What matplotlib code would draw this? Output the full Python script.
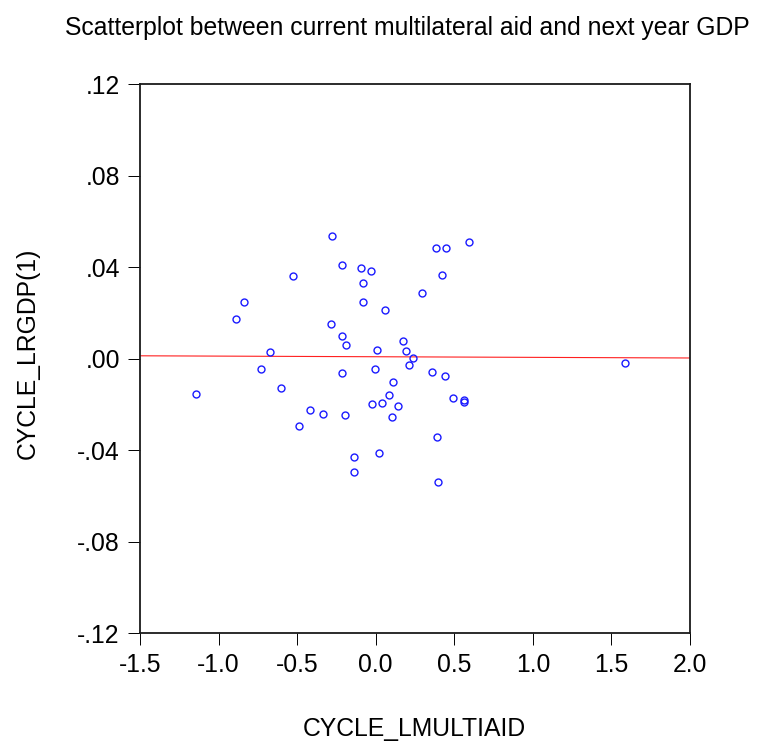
import numpy as np
import matplotlib
matplotlib.use('Agg')
import matplotlib.pyplot as plt
from matplotlib.ticker import FuncFormatter

# values
aid = [-1.141, -0.891, -0.840, -0.732, -0.672, -0.600, -0.526, -0.488, -0.420, -0.337,
       -0.286, -0.278, -0.216, -0.216, -0.214, -0.197, -0.187, -0.140, -0.138, -0.091,
       -0.083, -0.083, -0.032, -0.025, -0.006, 0.008, 0.021, 0.040, 0.057, 0.087,
       0.106, 0.108, 0.140, 0.176, 0.195, 0.212, 0.237, 0.293, 0.361, 0.384,
       0.392, 0.394, 0.422, 0.439, 0.445, 0.490, 0.562, 0.562, 0.592, 1.586]
gdp = [-0.0156, 0.0175, 0.0249, -0.0046, 0.0029, -0.0128, 0.0363, -0.0294, -0.0223, -0.0243,
       0.0150, 0.0537, 0.0411, 0.0101, -0.0064, -0.0245, 0.0059, -0.0497, -0.0430, 0.0397,
       0.0333, 0.0247, 0.0384, -0.0197, -0.0046, 0.0037, -0.0414, -0.0195, 0.0214, -0.0160,
       -0.0255, -0.0103, -0.0208, 0.0079, 0.0035, -0.0026, 0.0003, 0.0289, -0.0057, 0.0484,
       -0.0343, -0.0538, 0.0366, -0.0076, 0.0483, -0.0173, -0.0182, -0.0189, 0.0510, -0.0019]
xticks = [-1.5, -1.0, -0.5, 0.0, 0.5, 1.0, 1.5, 2.0]
yticks = [-0.12, -0.08, -0.04, 0.00, 0.04, 0.08, 0.12]

plt.rcParams['font.family'] = ['Liberation Sans', 'DejaVu Sans']
fs = 17.8

fig = plt.figure(figsize=(7.68, 7.43), dpi=100)
ax = fig.add_axes([0.1823, 0.148, 0.7161, 0.7385])

b, a = np.polyfit(aid, gdp, 1)
xl = np.array([-1.5, 2.0])
ax.plot(xl, a + b * xl, color='#ff2020', lw=0.8, zorder=2)
ax.plot(aid, gdp, 'o', mfc='none', mec='#1a1aff', ms=5.0, mew=1.0, zorder=3)

ax.set_xlim(-1.5, 2.0)
ax.set_ylim(-0.12, 0.12)
ax.set_xticks(xticks)
ax.set_yticks(yticks)
ax.xaxis.set_major_formatter(FuncFormatter(lambda v, p: '%.1f' % v))
ax.yaxis.set_major_formatter(FuncFormatter(lambda v, p: ('%.2f' % v).replace('0.', '.')))
ax.tick_params(direction='out', length=8.5, width=0.7, pad=6, labelsize=fs, colors='black')
for s in ax.spines.values():
    s.set_linewidth(1.3)
    s.set_color('#1a1a1a')

fig.text(0.540, 0.019, 'CYCLE_LMULTIAID', ha='center', va='center', fontsize=fs)
fig.text(0.036, 0.525, 'CYCLE_LRGDP(1)', ha='center', va='center', rotation=90, fontsize=fs)
fig.text(0.531, 0.962, 'Scatterplot between current multilateral aid and next year GDP',
         ha='center', va='center', fontsize=fs)

fig.savefig('out.png', dpi=100)
